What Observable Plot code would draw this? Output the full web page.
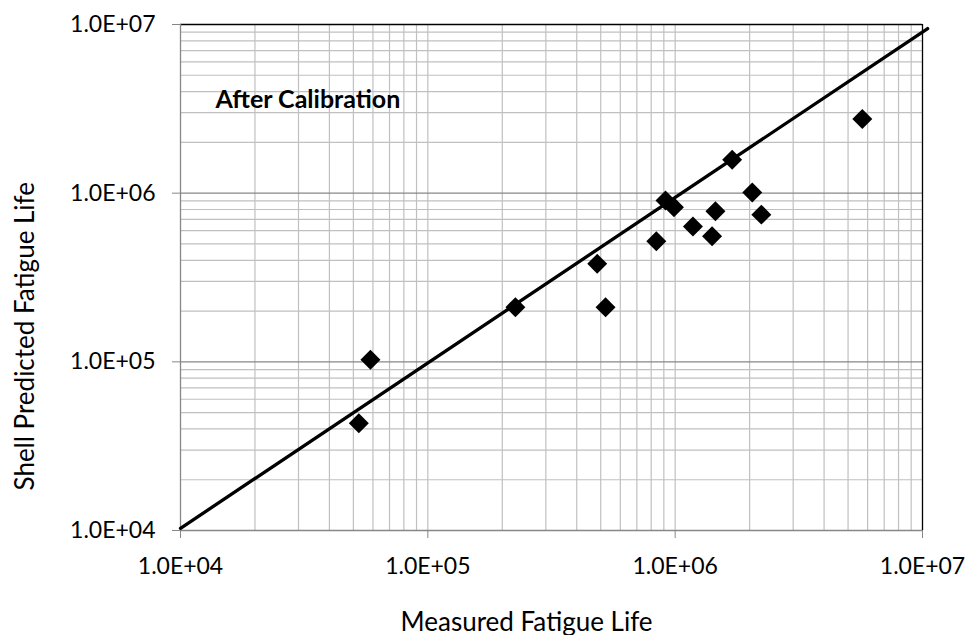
<!DOCTYPE html>
<html><head><meta charset="utf-8">
<script src="https://cdn.jsdelivr.net/npm/d3@7"></script>
<script src="https://cdn.jsdelivr.net/npm/@observablehq/plot@0.6"></script>
<style>body{margin:0;background:#fff;} svg{overflow:visible;}</style>
</head><body><div id="chart"></div>
<script>
const measured  = [5.26e4, 5.86e4, 2.26e5, 4.84e5, 5.23e5, 8.39e5, 9.14e5, 9.89e5, 1.18e6, 1.455e6, 1.41e6, 1.70e6, 2.05e6, 2.23e6, 5.71e6];
const predicted = [4.33e4, 1.03e5, 2.11e5, 3.81e5, 2.11e5, 5.19e5, 9.04e5, 8.25e5, 6.34e5, 7.82e5, 5.56e5, 1.58e6, 1.01e6, 7.46e5, 2.75e6];
const trendX = [1.0e4, 1.049e7];
const trendY = [1.03e4, 9.46e6];
const tickValues = [1e4, 1e5, 1e6, 1e7];
const tickLabels = ["1.0E+04", "1.0E+05", "1.0E+06", "1.0E+07"];
const xTitle = "Measured Fatigue Life";
const yTitle = "Shell Predicted Fatigue Life";
const annotation = "After Calibration";
const annotationAt = {x: 1.385e4, y: 3.21e6};

const minor = [];
for (let e = 4; e < 7; e++) for (let k = 2; k <= 9; k++) minor.push(k * Math.pow(10, e));
const majorInner = [1e5, 1e6];

const points = measured.map((m, i) => ({x: m, y: predicted[i]}));
const trend = trendX.map((x, i) => ({x, y: trendY[i]}));
const fmt = d => tickLabels[tickValues.indexOf(d)];
const font = "Lato, 'Open Sans', sans-serif";

const chart = Plot.plot({
  width: 965, height: 635,
  marginLeft: 180, marginRight: 43, marginTop: 24, marginBottom: 105,
  style: {fontFamily: font, background: "white"},
  x: {type: "log", domain: [1e4, 1e7]},
  y: {type: "log", domain: [1e4, 1e7]},
  marks: [
    Plot.gridX(minor.concat(majorInner), {stroke: "#c0c0c0", strokeOpacity: 1, strokeWidth: 1.2}),
    Plot.gridY(minor, {stroke: "#c0c0c0", strokeOpacity: 1, strokeWidth: 1.2}),
    Plot.gridY(majorInner, {stroke: "#878787", strokeOpacity: 1, strokeWidth: 1.2}),
    Plot.ruleY([1e7], {stroke: "black", strokeWidth: 1.3}),
    Plot.ruleX([1e7], {stroke: "black", strokeWidth: 1.3}),
    Plot.ruleX([1e4], {stroke: "#878787", strokeWidth: 1.3}),
    Plot.ruleY([1e4], {stroke: "#878787", strokeWidth: 1.3}),
    Plot.axisX(tickValues, {tickFormat: fmt, tickSize: 8, tickPadding: 19, stroke: "#878787", fill: "black", fontSize: 23, fontFamily: font, label: null}),
    Plot.axisY(tickValues, {tickFormat: fmt, tickSize: 8, tickPadding: 17, stroke: "#878787", fill: "black", fontSize: 23, fontFamily: font, label: null}),
    Plot.line(trend, {x: "x", y: "y", stroke: "black", strokeWidth: 3.3}),
    Plot.dot(points, {x: "x", y: "y", symbol: "diamond2", r: 9, fill: "black", stroke: "none"}),
    Plot.text([annotation], {x: annotationAt.x, y: annotationAt.y, text: d => d, textAnchor: "start", lineAnchor: "bottom", fontSize: 25, fontWeight: "bold", fontFamily: font, fill: "black"}),
    Plot.text([xTitle], {text: d => d, frameAnchor: "bottom-left", textAnchor: "start", dx: 220, dy: 100, lineAnchor: "bottom", fontSize: 26, fontFamily: font, fill: "black"}),
    Plot.text([yTitle], {text: d => d, frameAnchor: "bottom-left", textAnchor: "start", rotate: -90, dx: -147, dy: -40, lineAnchor: "bottom", fontSize: 26, fontFamily: font, fill: "black"})
  ]
});
document.getElementById("chart").appendChild(chart);
</script>
</body></html>
